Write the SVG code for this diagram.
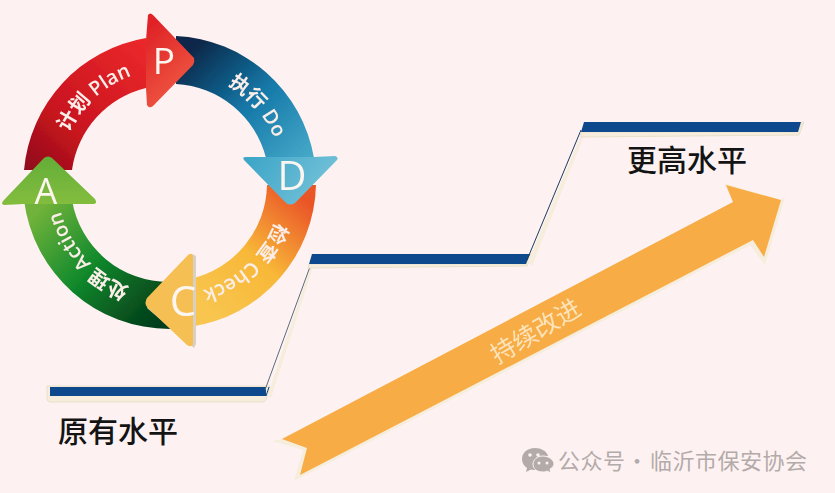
<svg xmlns="http://www.w3.org/2000/svg" width="835" height="493" viewBox="0 0 835 493">
<style>
.ring{font-family:"Open Sans","Noto Sans CJK SC",sans-serif;font-size:20px;font-weight:600;fill:#fbeee8}
.cap{font-family:"Open Sans",sans-serif;fill:#fdf6f0;text-anchor:middle}
.lvl{font-family:"Noto Sans CJK SC",sans-serif;font-size:30px;font-weight:500;fill:#141414}
.bar{fill:#0f4a8c}
.edge{fill:#f6eddc;stroke:#e9dfca;stroke-width:1}
</style>
<defs>
<filter id="soft" x="-5%" y="-5%" width="110%" height="110%"><feGaussianBlur stdDeviation="0.5"/></filter>
<linearGradient id="gr" gradientUnits="userSpaceOnUse" x1="40" y1="190" x2="170" y2="50"><stop offset="0" stop-color="#8a0c1c"/><stop offset=".35" stop-color="#c8141f"/><stop offset="1" stop-color="#ee2a2c"/></linearGradient>
<linearGradient id="grh" gradientUnits="userSpaceOnUse" x1="148" y1="30" x2="194" y2="80"><stop offset="0" stop-color="#e02428"/><stop offset="1" stop-color="#ee5540"/></linearGradient>
<linearGradient id="gb" gradientUnits="userSpaceOnUse" x1="190" y1="50" x2="300" y2="165"><stop offset="0" stop-color="#0a2748"/><stop offset=".5" stop-color="#1478a8"/><stop offset="1" stop-color="#45a8c8"/></linearGradient>
<linearGradient id="gbh" gradientUnits="userSpaceOnUse" x1="250" y1="160" x2="320" y2="205"><stop offset="0" stop-color="#3fa6c8"/><stop offset="1" stop-color="#74c2d8"/></linearGradient>
<linearGradient id="go" gradientUnits="userSpaceOnUse" x1="310" y1="205" x2="210" y2="320"><stop offset="0" stop-color="#ea5528"/><stop offset=".5" stop-color="#f8b838"/><stop offset="1" stop-color="#f8c650"/></linearGradient>
<linearGradient id="gg" gradientUnits="userSpaceOnUse" x1="45" y1="205" x2="165" y2="320"><stop offset="0" stop-color="#6fb23a"/><stop offset=".45" stop-color="#128a2c"/><stop offset=".8" stop-color="#07541f"/><stop offset="1" stop-color="#043c1a"/></linearGradient>
<linearGradient id="gah" gradientUnits="userSpaceOnUse" x1="48" y1="156" x2="48" y2="205"><stop offset="0" stop-color="#62ad38"/><stop offset="1" stop-color="#84bd3e"/></linearGradient>
<path id="tp" d="M59.5,205.500 A113,113 0 0 1 204.900,74.500"/>
<path id="td" d="M148.400,71 A113,113 0 0 1 276.900,218.800"/>
<path id="tc" d="M280.100,156.600 A113,113 0 0 1 137,290"/>
<path id="ta" d="M193.500,292.500 A113,113 0 0 1 62.500,147.100"/>
</defs>
<rect width="835" height="493" fill="#fdf2f1"/>
<g id="pdca-ring" filter="url(#soft)">
<g id="do">
<path d="M176,36 A147,147 0 0 1 314,158 L266,158 A98,98 0 0 0 176,84 Z" fill="url(#gb)"/>
</g>
<g id="check">
<path d="M316,185 A147,147 0 0 1 190,327 L190,279 A98,98 0 0 0 267,185 Z" fill="url(#go)"/>
</g>
<g id="action">
<path d="M24,200 A147,147 0 0 0 170,329 L170,282 A98,98 0 0 1 72,200 Z" fill="url(#gg)"/>
</g>
<g id="plan">
<path d="M24,170 A147,147 0 0 1 146,38 L146,88 A98,98 0 0 0 72,170 Z" fill="url(#gr)"/>
<path d="M146,40 L148,15 Q150,12 153,15 L194,58 Q195,62 193,65 L153,106 Q149,109 147,105 L146,88 Z" fill="url(#grh)"/>
</g>
<g id="d-head">
<path d="M244,160 Q242,157 246,157 L265,157 L314,157 L335,156 Q339,157 337,160 L295,203 Q290,206 286,203 Z" fill="url(#gbh)"/>
</g>
<g id="c-head">
<path d="M196,344 L194,348 L147,308 L192,254 L196,256 L196,278 L196,328 Z" fill="#d9cfc2"/>
<path d="M193,256 Q192,252 188,255 L147,298 Q144,303 147,307 L187,345 Q192,348 193,344 L193,326 L193,279 Z" fill="#f5bf52"/>
</g>
<g id="a-head">
<path d="M4,200 L44,158 Q48,155 52,158 L95,199 Q98,204 93,204 L72,204 L24,204 L4,205 Q0,204 4,200 Z" fill="url(#gah)"/>
</g>
<text class="ring"><textPath href="#tp" startOffset="50%" text-anchor="middle">计划 Plan</textPath></text>
<text class="ring"><textPath href="#td" startOffset="50%" text-anchor="middle">执行 Do</textPath></text>
<text class="ring"><textPath href="#tc" startOffset="50%" text-anchor="middle">检查 Check</textPath></text>
<text class="ring"><textPath href="#ta" startOffset="50%" text-anchor="middle">处理 Action</textPath></text>
<text class="cap" x="164" y="74" font-size="37">P</text>
<text class="cap" x="292" y="190" font-size="40">D</text>
<text class="cap" x="183" y="316" font-size="42">C</text>
<text class="cap" x="46" y="204" font-size="36">A</text>
</g>
<g id="levels" filter="url(#soft)">
<g id="level-low">
<path d="M47,386 L270,386 L266,400 Q265,402 262,402 L50,402 Q46,401 47,398 Z" class="edge"/>
<rect class="bar" x="50" y="387" width="216" height="9"/>
<path d="M266,396 L269,387" stroke="#0f4a8c" stroke-width="1"/>
</g>
<path d="M268,395 L311,264 L314,264 L271,398 Z" fill="#f6eddc"/>
<path d="M265,390 L311,264" stroke="#5a6c80" stroke-width="1" fill="none"/>
<g id="level-mid">
<path d="M309,264 L526,264 L530,254 L532,254 L527,266 L308,268 Z" class="edge"/>
<path class="bar" d="M312,254 L530,254 L526,264 L309,264 Z"/>
</g>
<path d="M528,262 L582,133 L585,133 L532,266 Z" fill="#f6eddc"/>
<path d="M527,260 L581,130" stroke="#1c3c60" stroke-width="1" fill="none"/>
<g id="level-high">
<path d="M581,132 L798,132 L802,122 L804,122 L799,135 L581,137 Z" class="edge"/>
<path class="bar" d="M584,122 L801,122 L798,132 L581,132 Z"/>
</g>
</g>
<text class="lvl" x="58" y="442">原有水平</text>
<text class="lvl" x="627" y="171">更高水平</text>
<g id="improve-arrow" filter="url(#soft)">
<path d="M272,441 L303,450 L294,481 L750,245 L765,265 L785,197 L781,200 L724,183 L733,202 L282,439 Z" fill="#f6eddc"/>
<path d="M282,439 L733,202 L726,185 L781,200 L764,257 L753,240 L300,475 L307,448 Z" fill="#f8ac45"/>
<text x="536" y="340" transform="rotate(-31 536 332)" text-anchor="middle" font-family="'Noto Sans CJK SC',sans-serif" font-size="25" fill="#fce4ba">持续改进</text>
</g>
<g id="watermark" fill="#b3aaaa">
<path d="M535,448 C527,448 522,453 522,459 C522,463 524,466 527,468 L526,472 L531,469.500 C533,470 534,470 536,470 C535,468 535,467 535,466 C535,460 541,456 548,456 C547,451 541,448 535,448 Z"/>
<path d="M544,458 C538,458 534,462 534,466 C534,471 538,474 544,474 C545,474 547,474 548,473 L552,475 L551,471 C553,470 555,468 555,466 C555,462 550,458 544,458 Z" transform="translate(-1 -2)" stroke="#fdf2f1" stroke-width="1"/>
<circle cx="530" cy="455" r="1.800" fill="#fdf2f1"/><circle cx="538" cy="455" r="1.800" fill="#fdf2f1"/>
<circle cx="539" cy="463" r="1.500" fill="#fdf2f1"/><circle cx="547" cy="463" r="1.500" fill="#fdf2f1"/>
<text y="469" font-family="'Noto Sans CJK SC',sans-serif" font-size="22" letter-spacing="0.5"><tspan x="558">公众号</tspan><tspan x="626">·</tspan><tspan x="650">临沂市保安协会</tspan></text>
</g>
</svg>
